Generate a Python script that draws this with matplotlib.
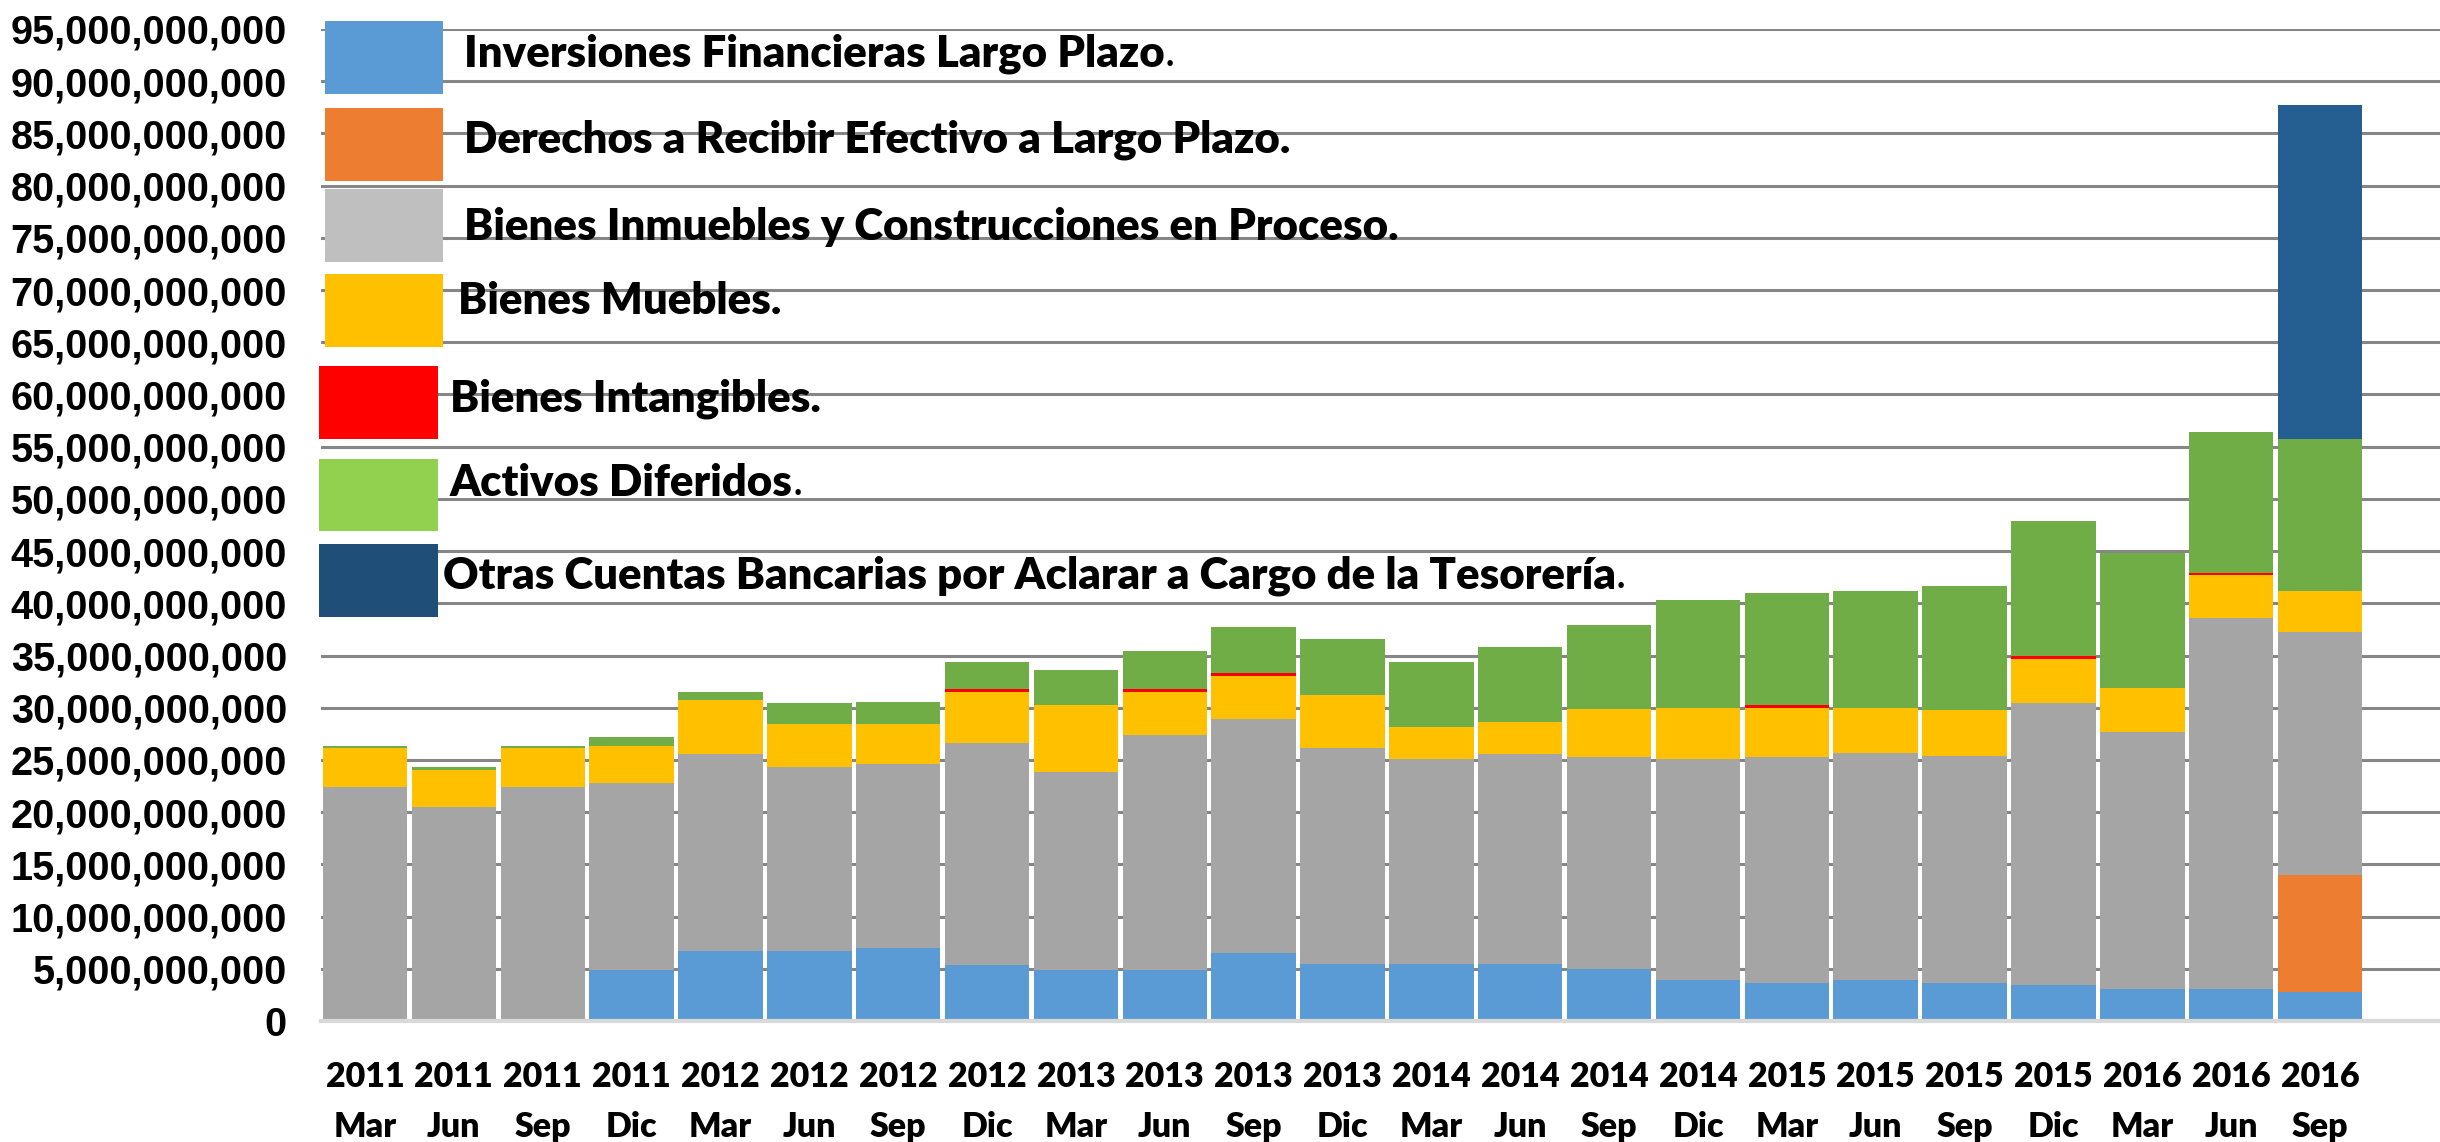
import matplotlib
matplotlib.use("Agg")
import matplotlib.pyplot as plt
import numpy as np
from matplotlib.patches import Rectangle

# ---------------- data (billions of pesos) ----------------
years = ["2011", "2011", "2011", "2011", "2012", "2012", "2012", "2012",
         "2013", "2013", "2013", "2013", "2014", "2014", "2014", "2014",
         "2015", "2015", "2015", "2015", "2016", "2016", "2016"]
months = ["Mar", "Jun", "Sep", "Dic"] * 5 + ["Mar", "Jun", "Sep"]

inversiones = [0, 0, 0, 4.9, 6.75, 6.75, 7.0, 5.4, 4.9, 4.9, 6.5, 5.45,
               5.45, 5.45, 4.95, 3.9, 3.65, 3.9, 3.65, 3.4, 3.1, 3.1, 2.8]
derechos = [0] * 22 + [11.2]
inmuebles = [22.45, 20.45, 22.45, 17.85, 18.85, 17.55, 17.6, 21.2, 18.9,
             22.5, 22.4, 20.65, 19.6, 20.1, 20.35, 21.2, 21.65, 21.8, 21.75,
             27.1, 24.55, 35.5, 23.3]
muebles = [3.65, 3.6, 3.65, 3.6, 5.15, 4.1, 3.85, 4.9, 6.45, 4.1, 4.1, 5.1,
           3.1, 3.05, 4.6, 4.85, 4.7, 4.3, 4.35, 4.2, 4.25, 4.1, 3.9]
intangibles = [0, 0, 0, 0, 0, 0, 0, 0.3, 0, 0.25, 0.3, 0,
               0, 0, 0, 0, 0.25, 0, 0, 0.3, 0, 0.25, 0]
diferidos = [0.26, 0.25, 0.26, 0.8, 0.8, 2.1, 2.1, 2.55, 3.4, 3.65, 4.4, 5.4,
             6.2, 7.2, 8.0, 10.35, 10.7, 11.15, 11.95, 12.9, 12.9, 13.5, 14.55]
otras = [0] * 22 + [32.0]

series_names = [
    "Inversiones Financieras Largo Plazo",
    "Derechos a Recibir Efectivo a Largo Plazo.",
    "Bienes Inmuebles y Construcciones en Proceso.",
    "Bienes Muebles.",
    "Bienes Intangibles.",
    "Activos Diferidos",
    "Otras Cuentas Bancarias por Aclarar a Cargo de la Tesorería",
]
series_values = [inversiones, derechos, inmuebles, muebles, intangibles, diferidos, otras]
bar_colors = ["#5B9BD5", "#ED7D31", "#A5A5A5", "#FFC000", "#FF0000", "#70AD47", "#255E91"]
legend_colors = ["#5B9BD5", "#ED7D31", "#BFBFBF", "#FFC000", "#FF0000", "#92D050", "#1F4E79"]
thin_period = [True, False, False, False, False, True, True]

yticks = np.arange(0, 96, 5)

# ---------------- figure ----------------
W, H = 2440, 1142
fig = plt.figure(figsize=(W / 100, H / 100), dpi=100)
ax = fig.add_axes([321 / W, 1 - 1021 / H, 1 - 321 / W, (1021 - 29) / H])

x = np.arange(len(years))
bottom = np.zeros(len(years))
for vals, col in zip(series_values, bar_colors):
    v = np.array(vals, dtype=float)
    ax.bar(x, v, bottom=bottom, width=0.95, color=col, linewidth=0, zorder=3)
    bottom += v

ax.set_xlim(-0.495, 23.35)
ax.set_ylim(0, 95)
ax.set_yticks(yticks)
ax.set_yticklabels([f"{v * 1_000_000_000:,.0f}" for v in yticks],
                   fontfamily="Liberation Sans", fontweight="bold", fontsize=28.5)
ax.set_xticks(x)
ax.set_xticklabels([f"{y}\n{m}" for y, m in zip(years, months)],
                   fontfamily="Lato", fontweight="heavy", fontsize=24.5, linespacing=1.7)
ax.tick_params(axis="y", length=0, pad=24.5)
ax.tick_params(axis="x", length=0, pad=28.5)
ax.yaxis.grid(True, color="#868686", linewidth=2.2, zorder=0)
ax.set_axisbelow(True)
for s in ["top", "right", "left"]:
    ax.spines[s].set_visible(False)
ax.spines["bottom"].set_color("#D9D9D9")
ax.spines["bottom"].set_linewidth(3)
ax.spines["bottom"].set_zorder(4)

# ---------------- hand-made legend (figure pixels) ----------------
boxes = [(325, 21, 443, 94), (325, 108, 443, 181), (325, 189, 443, 262),
         (325, 274, 443, 347), (319, 366, 438, 439), (319, 459, 438, 531),
         (319, 544, 438, 617)]
text_pos = [(464, 66), (464, 153), (464, 240), (458, 314), (450, 412),
            (450, 496), (443, 588)]

for (x0, y0, x1, y1), col in zip(boxes, legend_colors):
    fig.patches.append(Rectangle((x0 / W, 1 - y1 / H), (x1 - x0) / W, (y1 - y0) / H,
                                 transform=fig.transFigure, facecolor=col,
                                 edgecolor="none", zorder=10))
for name, (tx, ty), thin in zip(series_names, text_pos, thin_period):
    t = fig.text(tx / W, 1 - ty / H, name, fontfamily="Lato", fontweight="heavy",
                 fontsize=31.5, va="baseline", ha="left", zorder=11)
    if thin:
        fig.texts.append(plt.Annotation(".", xy=(1, 0), xycoords=t, va="bottom",
                                        ha="left", fontfamily="Lato", fontsize=31.5))
        fig.texts[-1].set_figure(fig)

fig.savefig("out.png", dpi=100)
